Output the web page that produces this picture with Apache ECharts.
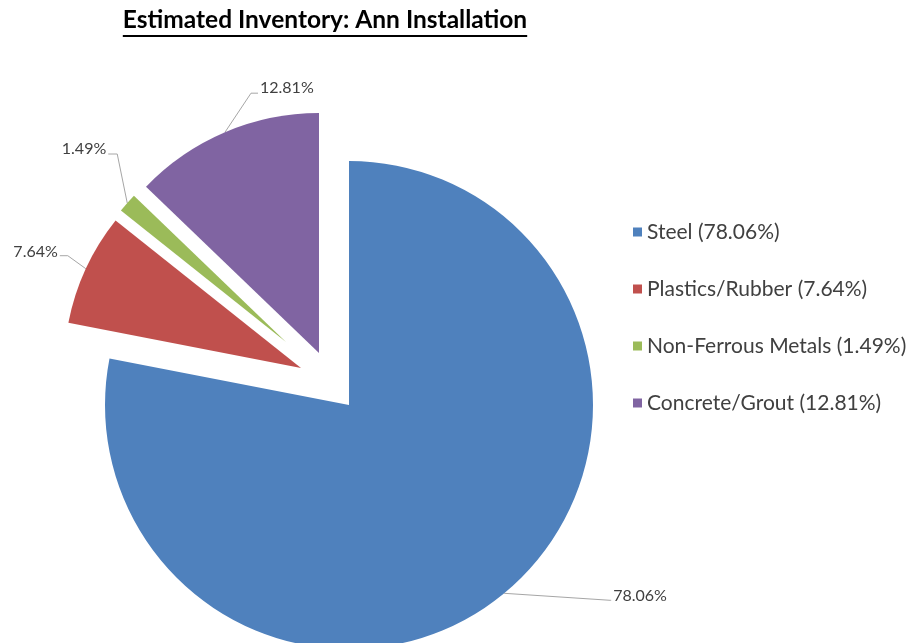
<!DOCTYPE html>
<html>
<head>
<meta charset="utf-8">
<script src="https://cdn.jsdelivr.net/npm/echarts@6/dist/echarts.min.js"></script>
<style>
  html, body { margin: 0; padding: 0; background: #fff; }
  #chart { width: 914px; height: 643px; }
</style>
</head>
<body>
<div id="chart"></div>
<script>
// ---- data ----
const titleText = 'Estimated Inventory: Ann Installation';
const categories = ['Steel', 'Plastics/Rubber', 'Non-Ferrous Metals', 'Concrete/Grout'];
const shares = [78.06, 7.64, 1.49, 12.81];

// ---- style / layout ----
const colors = ['#4F81BD', '#C0504D', '#9BBB59', '#8064A2'];
const FONT = 'Lato';
const TEXT_COLOR = '#404040';
// each exploded slice has its own centre & radius (explosion)
const sliceGeom = [
  { center: [349, 405], radius: 244 },
  { center: [301, 368], radius: 237 },
  { center: [286, 342], radius: 211 },
  { center: [319, 353], radius: 240 }
];
// leader line: elbow & end relative to the arc anchor; text anchor relative to arc anchor
const leader = [
  { elbow: [106, 7], end: [107, 7], text: [109, 3], align: 'left' },
  { elbow: [-18, -13], end: [-26, -13], text: [-28, -17], align: 'right' },
  { elbow: [-10, -49], end: [-19, -49], text: [-21, -54], align: 'right' },
  { elbow: [26, -39], end: [33, -39], text: [35, -44], align: 'left' }
];

const chart = echarts.init(document.getElementById('chart'), null, { renderer: 'canvas' });

const series = sliceGeom.map((g, i) => ({
  type: 'pie',
  center: g.center,
  radius: g.radius,
  startAngle: 90,
  clockwise: true,
  avoidLabelOverlap: false,
  silent: true,
  animation: false,
  emphasis: { disabled: true },
  itemStyle: { borderWidth: 0 },
  label: {
    formatter: '{d}%',
    fontFamily: FONT,
    fontSize: 16,
    color: TEXT_COLOR
  },
  labelLine: {
    length: 10,
    length2: 10,
    lineStyle: { color: '#A6A6A6', width: 1 }
  },
  labelLayout: function (params) {
    const pts = params.labelLinePoints;
    if (!pts) return {};
    const p0 = pts[0];
    const L = leader[i];
    return {
      x: p0[0] + L.text[0],
      y: p0[1] + L.text[1],
      align: L.align,
      verticalAlign: 'middle',
      labelLinePoints: [
        [p0[0], p0[1]],
        [p0[0] + L.elbow[0], p0[1] + L.elbow[1]],
        [p0[0] + L.end[0], p0[1] + L.end[1]]
      ]
    };
  },
  data: categories.map((name, j) => ({
    name: name,
    value: shares[j],
    itemStyle: { color: j === i ? colors[j] : 'rgba(0,0,0,0)' },
    label: { show: j === i },
    labelLine: { show: j === i }
  }))
}));

// measure title for underline
const ctx = document.createElement('canvas').getContext('2d');
const TITLE_SIZE = 24.5;
ctx.font = 'bold ' + TITLE_SIZE + 'px ' + FONT;
const titleW = ctx.measureText(titleText).width;
const titleCx = 325;

chart.setOption({
  backgroundColor: '#ffffff',
  animation: false,
  title: {
    text: titleText,
    left: titleCx - titleW / 2,
    top: 8,
    padding: 0,
    textStyle: {
      fontFamily: FONT,
      fontWeight: 'bold',
      fontSize: TITLE_SIZE,
      lineHeight: 25,
      color: '#000000'
    }
  },
  graphic: [{
    type: 'line',
    shape: { x1: titleCx - titleW / 2, y1: 36, x2: titleCx + titleW / 2, y2: 36 },
    style: { stroke: '#000000', lineWidth: 2 },
    silent: true
  }],
  legend: {
    orient: 'vertical',
    left: 633,
    top: 221,
    padding: 0,
    itemWidth: 9,
    itemHeight: 9,
    itemGap: 35,
    icon: 'rect',
    selectedMode: false,
    textStyle: {
      fontFamily: FONT,
      fontSize: 21,
      lineHeight: 22,
      color: TEXT_COLOR
    },
    formatter: function (name) {
      const k = categories.indexOf(name);
      return name + ' (' + shares[k].toFixed(2) + '%)';
    },
    data: categories.map((name, k) => ({ name: name, itemStyle: { color: colors[k] } }))
  },
  series: series
});
</script>
</body>
</html>
